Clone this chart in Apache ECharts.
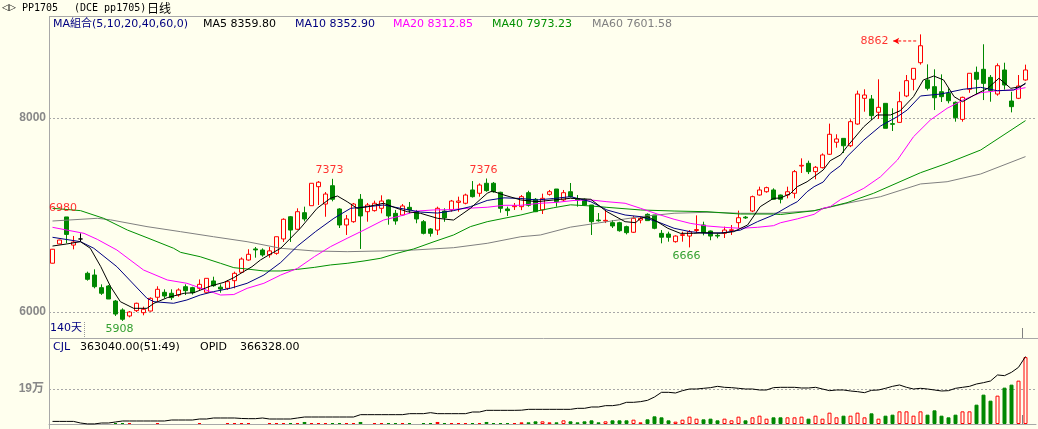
<!DOCTYPE html>
<html><head><meta charset="utf-8">
<script src="https://cdn.jsdelivr.net/npm/echarts@6/dist/echarts.min.js"></script>
<style>html,body{margin:0;padding:0;background:#FFFFEE;}#c{width:1038px;height:429px;}</style>
</head><body><div id="c"></div>
<script>
// ---------- data ----------
const days = Array.from({length: 140}, (_, i) => 'D' + (i + 1));
const open = [
6503,6702,6980,6690,6753,6399,6381,6251,6268,6113,
6021,5959,6014,5993,6010,6152,6203,6193,6175,6261,
6251,6244,6203,6320,6256,6244,6323,6409,6536,6650,
6639,6590,6605,6753,6982,6853,7024,7096,7292,7113,
7302,7062,6897,6931,7162,7034,7045,7069,7155,7017,
7000,7079,7034,6931,6856,6845,7041,7052,7130,7121,
7258,7224,7327,7327,7234,7062,7086,7086,7230,7162,
7052,7213,7268,7155,7240,7165,7162,7103,6948,6938,
6921,6921,6880,6822,6948,7007,7000,6811,6804,6725,
6790,6783,6840,6897,6835,6790,6811,6840,6921,6978,
7041,7206,7240,7258,7206,7206,7224,7505,7533,7447,
7488,7626,7750,7790,7714,7938,8203,8196,8059,8151,
7942,7955,8227,8399,8570,8392,8323,8271,8254,8162,
7986,8296,8471,8502,8419,8247,8495,8175,8203,8392];
const close = [
6647,6742,6800,6721,6753,6337,6261,6193,6134,5979,
5925,6000,6090,6028,6141,6234,6165,6148,6227,6220,
6199,6285,6347,6271,6237,6313,6399,6546,6595,6640,
6588,6630,6776,6956,6845,7034,6959,7327,7338,7216,
7162,6897,6959,7113,6990,7103,7121,7144,6990,6938,
7093,7052,6959,6811,6811,7069,6970,7144,7144,7206,
7189,7309,7251,7240,7069,7045,7096,7189,7100,7034,
7172,7240,7137,7230,7189,7155,7103,6931,6941,6945,
6887,6838,6818,6966,6966,6942,6863,6771,6770,6783,
6797,6828,6850,6818,6783,6783,6845,6848,6972,6970,
7189,7258,7282,7162,7162,7240,7447,7512,7447,7492,
7619,7832,7784,7714,7962,8247,8237,8024,8110,7894,
7935,8168,8385,8512,8745,8306,8209,8220,8178,8003,
8213,8461,8399,8357,8282,8539,8340,8117,8330,8495];
const low = [
6500,6700,6708,6646,6725,6323,6244,6176,6134,5959,
5908,5945,6000,5966,6005,6110,6141,6124,6158,6175,
6180,6227,6203,6260,6199,6227,6244,6409,6529,6560,
6570,6560,6590,6722,6722,6847,6935,7096,7103,6982,
7141,6866,6794,6920,6650,6931,7035,7017,6900,6900,
6990,7017,6915,6800,6777,6794,6930,7034,7034,7110,
7180,7189,7240,7230,7024,6990,7052,7050,7086,7030,
7010,7200,7086,7140,7180,7086,7095,6794,6931,6917,
6866,6828,6800,6815,6914,6942,6853,6708,6725,6715,
6725,6666,6814,6790,6740,6760,6763,6794,6866,6960,
7030,7200,7230,7155,7120,7172,7172,7433,7422,7368,
7480,7620,7694,7639,7700,7930,8065,7979,7990,7894,
7866,7955,8215,8285,8550,8285,8082,8165,8151,7962,
7962,8260,8244,8185,8168,8230,8292,8058,8195,8385];
const high = [
6650,6745,6980,6784,6811,6416,6440,6285,6278,6124,
6038,6010,6096,6055,6151,6265,6234,6234,6244,6285,
6260,6336,6347,6364,6285,6330,6416,6563,6647,6670,
6656,6670,6776,6966,6990,7069,7086,7327,7350,7237,
7373,7070,7000,7124,7216,7124,7148,7203,7160,7052,
7113,7134,7052,6948,6865,7086,7069,7155,7189,7220,
7350,7326,7376,7340,7240,7086,7124,7206,7250,7175,
7220,7258,7268,7258,7330,7206,7170,7103,7020,7052,
6948,6930,6890,6990,6990,7017,7000,6845,6828,6790,
6828,6845,6996,6931,6840,6810,6880,6897,7045,6990,
7200,7292,7292,7275,7210,7292,7464,7584,7560,7505,
7635,7942,7832,7790,7986,8282,8296,8237,8399,8151,
8100,8271,8443,8512,8862,8553,8502,8450,8306,8170,
8220,8461,8530,8760,8443,8563,8570,8271,8443,8550];
const volume = [
0,0,0,0,0,0,0,0,0,5400,
5400,5400,0,0,0,5400,0,0,0,0,
0,5400,0,0,0,5400,5400,5400,5400,0,
0,5400,5400,5400,5400,5400,11000,5400,5400,5400,
5400,5400,5400,5400,11000,0,5400,5400,5400,5400,
5400,5400,0,5400,5400,11000,5400,5400,5400,5400,
5400,5400,11000,5400,5400,5400,5400,9000,9000,14500,
14500,9000,9000,19900,14500,9000,14500,19900,9000,14500,
19900,19900,19900,23500,9000,25300,41600,36200,19900,12700,
23500,39800,29000,25300,29000,19900,29000,19900,39800,19900,
36200,45200,29000,36200,36200,36200,36200,39800,29000,45200,
29000,61500,36200,45200,45200,61500,36200,57900,29000,45200,
50700,68700,68700,45200,68700,50700,74200,45200,36200,50700,
68700,68700,105000,159300,126700,153900,197300,213600,235300,363040];
const opid = [
14100,14100,14100,14100,5400,500,500,5400,5400,10900,
16300,16300,16300,16300,16300,16300,16300,21700,21700,21700,
21700,27100,27100,32600,32600,32600,32600,30000,29000,29000,
32600,27100,27100,27100,27100,32600,38000,38000,38000,38000,
38000,38000,38000,38000,50700,50700,50700,50700,50700,50700,
50700,56100,56100,56100,61500,56100,56100,56100,56100,56100,
65100,65100,74200,74200,74200,74200,74200,75000,79600,79600,
79600,79600,79600,79600,79600,85100,85100,92300,92300,99500,
99500,105000,117700,117700,121300,128500,146600,172000,172000,168300,
181000,190000,190000,193700,197300,204500,199100,197300,193700,190000,
190000,184600,184600,197300,199100,199100,199100,195500,195500,199100,
190000,181000,184600,184600,179200,175600,170100,182800,184600,193700,
204500,211800,199100,190000,193700,190000,184600,179200,181000,193700,
199100,204500,217200,224400,233500,266100,262500,280600,307700,366328];
// moving-average lines: [day index, value]
const ma5 = [[0,6680],[2,6701],[4,6725],[5.4,6657],[6.9,6467],[8.3,6261],[9.7,6106],[11.6,6038],[13.5,6038],[14.5,6090],[16.4,6148],[18.8,6193],[20.2,6199],[22.6,6268],[24.5,6306],[25.9,6354],[27.3,6416],[28.5,6467],[29.7,6536],[30.9,6588],[32.6,6657],[34,6760],[35.4,6863],[37.8,7069],[39.7,7172],[40.7,7196],[42.1,7137],[43.5,7069],[45,7086],[47.3,7121],[49.2,7069],[50.7,7034],[52.6,7017],[55,6966],[57.3,6948],[59.7,7069],[62.1,7224],[62.8,7247],[64.5,7206],[66.9,7155],[69.2,7137],[71.6,7155],[74,7172],[76.9,7162],[79.2,7034],[81.8,6931],[83.3,6921],[84,6966],[85,6983],[86.4,6931],[87.9,6863],[89.7,6811],[91.6,6811],[93.5,6818],[95.4,6811],[97.3,6828],[99.3,6897],[101.1,7086],[103,7172],[104,7175],[105.4,7220],[106.4,7292],[107.8,7343],[108.8,7395],[110.1,7464],[111.1,7560],[112.6,7620],[113.5,7704],[115.9,7910],[117.8,8031],[119.7,8031],[121.1,8075],[123,8220],[124.4,8392],[125.9,8433],[127.3,8392],[128.8,8220],[130,8168],[131.7,8237],[133.6,8306],[135.2,8409],[136.9,8306],[138.3,8323],[139,8360]];
const ma10 = [[0,6770],[4,6725],[5.9,6657],[9.2,6467],[13.5,6141],[14.5,6106],[17.3,6090],[19.2,6124],[21.1,6175],[23,6210],[25.4,6244],[27.8,6296],[30.2,6381],[32.6,6510],[35,6680],[37.6,6830],[40.2,6966],[42.6,7069],[45,7086],[47.3,7103],[49.7,7069],[52.6,7030],[55,7020],[57.3,7045],[59.7,7086],[62.1,7150],[64.5,7177],[66.9,7170],[69.2,7155],[71.6,7170],[74,7189],[76.9,7137],[79.2,7052],[81.8,7000],[84,6983],[86.4,6931],[88.8,6863],[91.1,6828],[93.5,6811],[95.9,6818],[98.3,6845],[100.7,6931],[103,7000],[105.4,7100],[106.4,7137],[107.8,7240],[108.8,7292],[110.1,7340],[111.1,7430],[112.6,7510],[113.5,7601],[115.9,7773],[118.3,7918],[120.7,8014],[122.1,8082],[124,8227],[126.9,8247],[130.1,8296],[132.6,8316],[135,8281],[137.3,8289],[139,8353]];
const ma20 = [[0,6873],[4.5,6811],[6.4,6749],[9.2,6639],[13,6433],[16.4,6330],[19.2,6296],[22.6,6210],[24,6175],[25.9,6180],[27.8,6244],[30.2,6296],[32.6,6381],[35,6450],[37.4,6570],[39.7,6673],[42.1,6760],[44.5,6845],[47.3,6948],[49.7,6990],[52,7040],[54.4,7052],[57,7055],[59.2,7069],[62.1,7080],[64.5,7100],[66.9,7100],[69.7,7121],[72,7130],[74.5,7150],[76.9,7155],[79.2,7137],[81.8,7121],[84,7069],[86.4,7010],[88.8,6956],[91.1,6914],[93.5,6887],[95.9,6873],[98.3,6863],[100.7,6873],[103,6890],[104,6920],[106.4,6960],[108.8,7007],[110.1,7070],[111.1,7086],[112.6,7160],[113.5,7189],[115.9,7275],[118.3,7395],[120.7,7567],[123,7807],[125.4,7979],[127.8,8100],[130.1,8186],[132.6,8261],[135,8281],[137.3,8289],[139,8313]];
const ma40 = [[0,7069],[4,7045],[7.3,6966],[10.7,6845],[13.5,6766],[17.3,6657],[18.3,6615],[21.1,6570],[24,6502],[25.9,6457],[27.8,6443],[30.2,6423],[32.6,6423],[35,6440],[37.4,6460],[39.7,6485],[42.1,6502],[44.5,6526],[46.9,6554],[49.2,6605],[51.6,6650],[54.5,6725],[57.3,6794],[59.7,6880],[62.1,6931],[64.5,6966],[66.9,7000],[69.2,7041],[71.6,7075],[74,7105],[76.9,7093],[79.2,7079],[84,7052],[88.8,7041],[93.5,7034],[98.3,7010],[103,7010],[104,7005],[108.8,7044],[113.5,7127],[117.3,7224],[124,7436],[127.8,7533],[132.6,7670],[139,7973]];
const ma60 = [[0,6938],[6.4,6966],[8.3,6950],[13.5,6880],[18.3,6828],[23,6776],[27.8,6725],[32.6,6657],[37.4,6629],[42.1,6622],[46.9,6629],[51.6,6639],[57.3,6663],[62.1,6708],[66.9,6776],[69.7,6794],[74,6875],[79.2,6931],[84,6983],[88.8,7018],[93.5,7028],[98.3,7018],[103,7018],[108.8,7044],[113.5,7121],[118.3,7189],[124,7320],[127.8,7343],[132.6,7423],[139,7602]];
const priceTicks = [6000, 8000];
const legendItems = [
  {text: 'MA組合(5,10,20,40,60,0)', color: '#000080'},
  {text: 'MA5 8359.80', color: '#000000'},
  {text: 'MA10 8352.90', color: '#000080'},
  {text: 'MA20 8312.85', color: '#FF00FF'},
  {text: 'MA40 7973.23', color: '#009000'},
  {text: 'MA60 7601.58', color: '#808080'}
];
// extreme-value annotations: [day index, which price, label offset]
const extremes = [
  {i: 2, v: high[2], off: [-3.5, -9], up: true},
  {i: 10, v: low[10], off: [-3, 8.6], up: false},
  {i: 40, v: high[40], off: [-3, -8.3], up: true},
  {i: 62, v: high[62], off: [-3, -8], up: true},
  {i: 91, v: low[91], off: [-3, 9], up: false},
  {i: 124, v: high[124], off: [-46, 7], up: true}
];
// ---------- styling ----------
const BG = '#FFFFEE', RED = '#FF0000', GREEN = '#008800', GRID = '#A8A8A8';
const FONT = '"DejaVu Sans","Noto Sans CJK SC",sans-serif';
const legendX = [53, 203, 295, 393, 492, 592];

const ohlc = days.map((d, i) => [open[i], close[i], low[i], high[i]]);
const volData = volume.map((v, i) => {
  const up = close[i] >= open[i];
  return {value: v, itemStyle: {color: up ? BG : GREEN, borderColor: up ? RED : GREEN, borderWidth: v > 0 ? 1 : 0}};
});
const axisCats = days.concat(['']);
const N = axisCats.length;

function txt(text, x, y, color, font) {
  return {type: 'text', silent: true, style: {text, x, y, fill: color, font, align: 'left', verticalAlign: 'middle'}};
}
function seg(x1, y1, x2, y2, color, dash) {
  return {type: 'line', silent: true, shape: {x1, y1, x2, y2}, style: {stroke: color, lineWidth: 1, lineDash: dash || null}};
}

const graphic = [
  seg(49, 16.5, 1038, 16.5, GRID),
  seg(49.5, 16, 49.5, 429, GRID),
  seg(49, 338.5, 1038, 338.5, GRID),
  seg(84.5, 322, 84.5, 338, '#999', [1, 1]),
  seg(1022.5, 328, 1022.5, 338, '#808080'),
  seg(1022.5, 415, 1022.5, 424, '#808080'),
  txt('◁▷', 2, 8, '#000', '9px "DejaVu Sans"'),
  txt('PP1705', 22, 8, '#000', '10px "DejaVu Sans Mono"'),
  txt('(DCE pp1705)', 74, 8, '#000', '10px "DejaVu Sans Mono"'),
  txt('日线', 147, 8, '#000', '12px "Noto Sans CJK SC"'),
  txt('140天', 50, 328.5, '#000080', '11px ' + FONT),
  txt('CJL', 53, 347, '#000080', '11px ' + FONT),
  txt('363040.00(51:49)', 80, 347, '#000', '11px ' + FONT),
  txt('OPID', 200, 347, '#000', '11px ' + FONT),
  txt('366328.00', 240, 347, '#000', '11px ' + FONT)
].concat(legendItems.map((it, k) => txt(it.text, legendX[k], 24.5, it.color, '11px ' + FONT)));

const maLine = (name, data, color) => ({
  name, type: 'line', xAxisIndex: 2, yAxisIndex: 0, data, symbol: 'none', clip: false,
  lineStyle: {color, width: 1}, silent: true, z: 4
});

const option = {
  backgroundColor: BG,
  animation: false,
  graphic,
  grid: [
    {left: 49, top: 118, width: 987, height: 194, outerBoundsMode: 'none', containLabel: false},
    {left: 49, top: 354, width: 987, height: 70, outerBoundsMode: 'none', containLabel: false}
  ],
  xAxis: [
    {type: 'category', gridIndex: 0, data: axisCats, boundaryGap: true, show: false},
    {type: 'category', gridIndex: 1, data: axisCats, boundaryGap: true,
     axisLine: {show: true, lineStyle: {color: GRID, width: 1}}, axisTick: {show: false}, axisLabel: {show: false}, splitLine: {show: false}},
    {type: 'value', gridIndex: 0, min: -0.5, max: N - 0.5, show: false, splitLine: {show: false}}
  ],
  yAxis: [
    {type: 'value', gridIndex: 0, min: priceTicks[0], max: priceTicks[1], interval: 2000,
     axisLine: {show: false}, axisTick: {show: false},
     axisLabel: {color: '#888888', fontWeight: 'bold', fontSize: 12, fontFamily: 'Liberation Sans', margin: 3, formatter: v => String(v)},
     splitLine: {show: true, lineStyle: {color: GRID, type: [2, 2], width: 1}}},
    {type: 'value', gridIndex: 1, min: 0, max: 380000, interval: 190000,
     axisLine: {show: false}, axisTick: {show: false},
     axisLabel: {color: '#888888', fontWeight: 'bold', fontSize: 12, fontFamily: '"Liberation Sans","Noto Sans CJK SC"', margin: 5,
       showMinLabel: false, showMaxLabel: false, formatter: v => (v / 10000) + '万'},
     splitLine: {show: true, showMinLine: false, showMaxLine: false, lineStyle: {color: GRID, type: [2, 2], width: 1}}}
  ],
  series: [
    {name: 'K', type: 'candlestick', xAxisIndex: 0, yAxisIndex: 0, data: ohlc, barWidth: 4, clip: false, silent: true,
     itemStyle: {color: BG, color0: GREEN, borderColor: RED, borderColor0: GREEN, borderColorDoji: '#000000', borderWidth: 1}},
    maLine('MA60', ma60, '#808080'),
    maLine('MA40', ma40, '#009000'),
    maLine('MA20', ma20, '#FF00FF'),
    maLine('MA10', ma10, '#000080'),
    maLine('MA5', ma5, '#000000'),
    {name: 'extremes', type: 'scatter', xAxisIndex: 2, yAxisIndex: 0, clip: false, silent: true, symbolSize: 0, z: 6,
     data: extremes.map(e => ({value: [e.i, e.v], label: {show: true, position: 'inside', offset: e.off,
       color: e.up ? RED : GREEN, fontSize: 11, fontFamily: 'DejaVu Sans', formatter: p => String(p.value[1])}}))},
    {name: 'arrow', type: 'line', xAxisIndex: 2, yAxisIndex: 0, clip: false, silent: true, z: 6,
     lineStyle: {color: RED, type: [3, 2], width: 1}, itemStyle: {color: RED},
     data: [{value: [120.1, 8794], symbol: 'arrow', symbolSize: [5, 6], symbolRotate: 90}, {value: [123.6, 8794], symbol: 'none'}]},
    {name: 'CJL', type: 'bar', xAxisIndex: 1, yAxisIndex: 1, data: volData, barWidth: 4, silent: true},
    {name: 'OPID', type: 'line', xAxisIndex: 1, yAxisIndex: 1, data: opid, symbol: 'none', silent: true, clip: false,
     lineStyle: {color: '#000000', width: 1}, z: 4}
  ]
};
const chart = echarts.init(document.getElementById('c'));
chart.setOption(option);
</script></body></html>
